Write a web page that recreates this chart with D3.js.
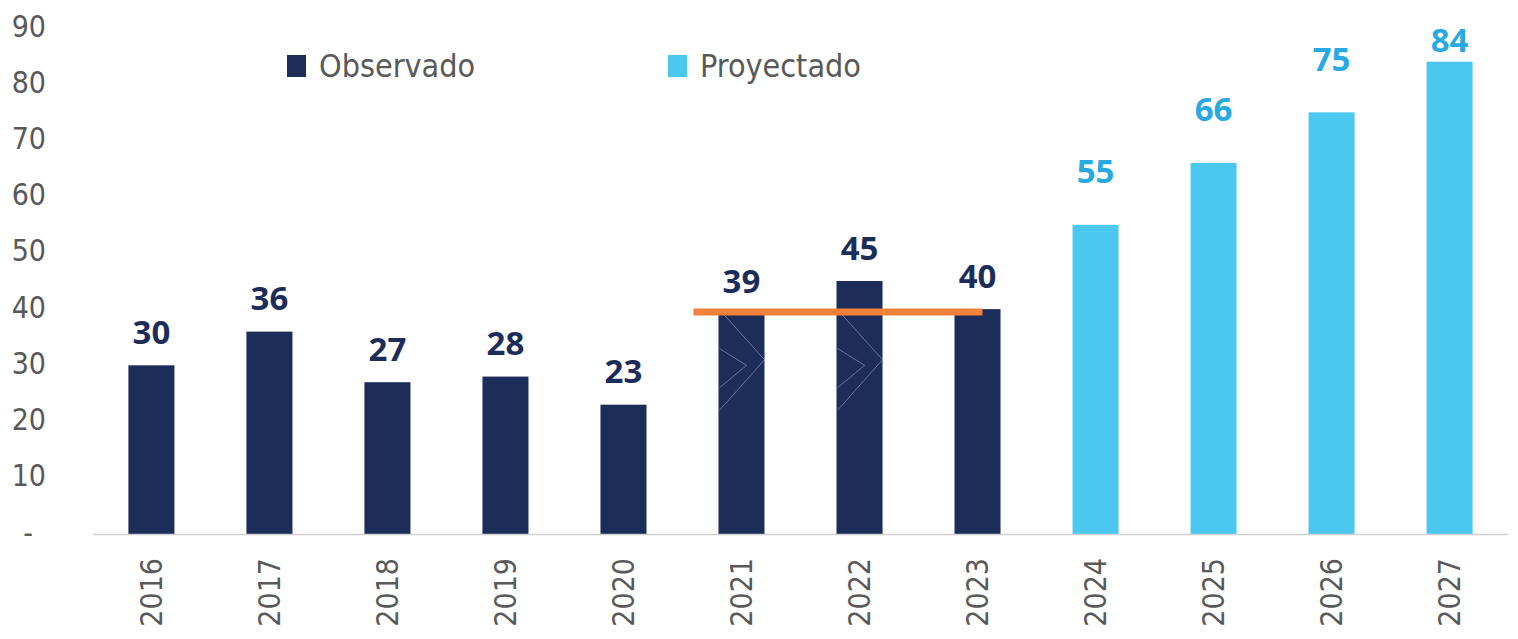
<!DOCTYPE html>
<html lang="es">
<head>
  <meta charset="UTF-8">
  <title>Observado vs Proyectado</title>
  <script src="https://d3js.org/d3.v7.min.js"></script>
  <style>
    body { margin: 0; background: #fff; overflow: hidden; }
    svg { display: block; }
    .tick-label { font-family: "DejaVu Sans Condensed", "Liberation Sans Narrow", sans-serif; font-size: 30px; fill: #595959; }
    .value-label { font-family: "Open Sans", "DejaVu Sans", sans-serif; font-weight: 700; font-size: 33px; }
    .legend text { font-family: "DejaVu Sans Condensed", sans-serif; font-size: 32px; fill: #595959; }
  </style>
</head>
<body>
<svg></svg>
<script>
// === Data ===
const years = ["2016", "2017", "2018", "2019", "2020", "2021", "2022", "2023", "2024", "2025", "2026", "2027"];
const values = [30, 36, 27, 28, 23, 39, 45, 40, 55, 66, 75, 84];
const series = ["Observado", "Observado", "Observado", "Observado", "Observado", "Observado", "Observado", "Observado",
                "Proyectado", "Proyectado", "Proyectado", "Proyectado"];
const yTicks = [0, 10, 20, 30, 40, 50, 60, 70, 80, 90];
const refLineValue = 39.5;            // orange reference line
const refLineYears = ["2021", "2023"];

const width = 1518, height = 639;
const svg = d3.select("svg").attr("width", width).attr("height", height);

const colors = { Observado: "#1C2D5A", Proyectado: "#4BC8EF" };
const labelColors = { Observado: "#1C2D5A", Proyectado: "#29A9E1" };

// === Scales ===
const x = d3.scaleBand().domain(years).range([93, 1508]).paddingInner(0.61).paddingOuter(0.3);
const y = d3.scaleLinear().domain([0, 90]).range([534, 28]);

// === Y axis labels ===
svg.append("g")
  .selectAll("text")
  .data(yTicks)
  .join("text")
  .attr("class", "tick-label")
  .attr("x", d => d === 0 ? 33 : 46)
  .attr("y", d => y(d) - 2)
  .attr("dy", "0.35em")
  .attr("text-anchor", "end")
  .text(d => d === 0 ? "-" : d);

// === Bars ===
svg.append("g")
  .selectAll("rect")
  .data(years)
  .join("rect")
  .attr("x", d => x(d))
  .attr("width", x.bandwidth())
  .attr("y", (d, i) => y(values[i]))
  .attr("height", (d, i) => y(0) - y(values[i]))
  .attr("fill", (d, i) => colors[series[i]]);

// faint chevron watermark over 2021-2022
const wm = svg.append("g").attr("fill", "none").attr("stroke", "#ffffff").attr("stroke-opacity", 0.35).attr("stroke-width", 1);
["2021", "2022"].forEach(yr => {
  const cx = x(yr) + x.bandwidth();
  wm.append("path").attr("d", `M${cx - 45},${y(39) - 5} L${cx},${y(31)} L${cx - 45},${y(22)}`);
  wm.append("path").attr("d", `M${cx - 45},${y(33)} L${cx - 18},${y(30)} L${cx - 45},${y(26)}`);
});

// === Axis baseline ===
svg.append("line")
  .attr("x1", 93).attr("x2", 1508)
  .attr("y1", y(0) + 0.5).attr("y2", y(0) + 0.5)
  .attr("stroke", "#D0D0D0").attr("stroke-width", 1.5);

// === X labels (rotated) ===
svg.append("g")
  .selectAll("text")
  .data(years)
  .join("text")
  .attr("class", "tick-label")
  .attr("transform", d => `translate(${x(d) + x.bandwidth() / 2},${y(0) + 24}) rotate(-90)`)
  .attr("text-anchor", "end")
  .attr("dy", "0.35em")
  .text(d => d);

// === Reference line ===
svg.append("line")
  .attr("x1", x(refLineYears[0]) - 25)
  .attr("x2", x(refLineYears[1]) + 28)
  .attr("y1", y(refLineValue)).attr("y2", y(refLineValue))
  .attr("stroke", "#F4813A").attr("stroke-width", 7);

// === Value labels ===
svg.append("g")
  .selectAll("text")
  .data(years)
  .join("text")
  .attr("class", "value-label")
  .attr("x", d => x(d) + x.bandwidth() / 2)
  .attr("y", (d, i) => Math.max(40, y(values[i]) - (series[i] === "Observado" ? 33 : 53)))
  .attr("dy", "0.35em")
  .attr("text-anchor", "middle")
  .attr("fill", (d, i) => labelColors[series[i]])
  .text((d, i) => values[i]);

// === Legend ===
const legendItems = [
  { name: "Observado", x: 287 },
  { name: "Proyectado", x: 668 }
];
const legend = svg.append("g").attr("class", "legend");
legendItems.forEach(item => {
  legend.append("rect")
    .attr("x", item.x).attr("y", 55)
    .attr("width", 19).attr("height", 22)
    .attr("fill", colors[item.name]);
  legend.append("text")
    .attr("x", item.x + 32).attr("y", 66)
    .attr("dy", "0.35em")
    .text(item.name);
});
</script>
</body>
</html>
